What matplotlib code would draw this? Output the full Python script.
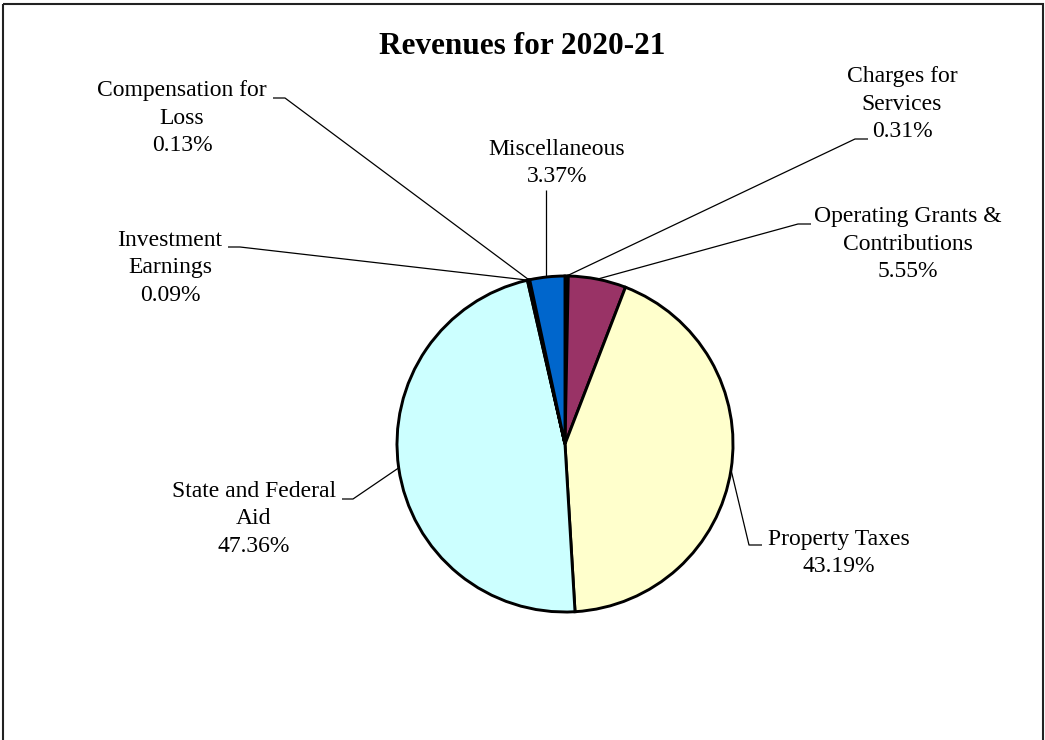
import matplotlib.pyplot as plt
from matplotlib.patches import Rectangle
import numpy as np

plt.rcParams['font.family'] = ['Liberation Serif', 'DejaVu Serif']

# revenue sources, clockwise from 12 o'clock
categories = ['Charges for\nServices', 'Operating Grants &\nContributions', 'Property Taxes',
              'State and Federal\nAid', 'Investment\nEarnings', 'Compensation for\nLoss',
              'Miscellaneous']
shares = [0.31, 5.55, 43.19, 47.36, 0.09, 0.13, 3.37]
colors = ['#000033', '#993366', '#FFFFCC', '#CCFFFF', '#660066', '#FF8080', '#0066CC']

W, H = 1045, 740
CX, CY, R = 565, 444, 168

# label centre, and leader path (from slice edge outwards) in pixel coords
layout = {
    'Charges for\nServices': ((902, 104), [(855, 139), (868, 139)]),
    'Operating Grants &\nContributions': ((908, 244), [(798, 224), (811, 224)]),
    'Property Taxes': ((839, 553), [(749, 545), (762, 545)]),
    'State and Federal\nAid': ((254, 519), [(353, 499), (342, 499)]),
    'Investment\nEarnings': ((170, 268), [(240, 247), (228, 247)]),
    'Compensation for\nLoss': ((182, 118), [(285, 98), (273, 98)]),
    'Miscellaneous': ((557, 163), [(546, 190)]),
}

fig = plt.figure(figsize=(W / 100, H / 100), dpi=100)
ax = fig.add_axes([0, 0, 1, 1])

# y axis points down, so a visual clockwise sweep from the top is
# counterclockwise in data space starting at -90
wedges, _ = ax.pie(shares, colors=colors, startangle=-90, counterclock=True,
                   center=(CX, CY), radius=R,
                   wedgeprops=dict(edgecolor='black', linewidth=2.1))
ax.set_xlim(0, W)
ax.set_ylim(H, 0)
ax.set_aspect('equal')
ax.axis('off')

for w, name, share in zip(wedges, categories, shares):
    mid = np.deg2rad((w.theta1 + w.theta2) / 2)
    anchor = (CX + R * np.cos(mid), CY + R * np.sin(mid))
    (tx, ty), path = layout[name]
    if len(path) == 1:
        # single leader: drop straight down to the rim
        anchor = (path[0][0], CY - np.sqrt(R**2 - (path[0][0] - CX)**2))
    xs, ys = zip(anchor, *path)
    ax.plot(xs, ys, color='black', lw=0.9, solid_capstyle='butt')
    ax.text(tx, ty, f'{name}\n{share:.2f}%', ha='center', va='center',
            fontsize=17, linespacing=1.42)

ax.text(522, 46, 'Revenues for 2020-21', ha='center', va='center',
        fontsize=22.5, fontweight='bold')

# chart frame
ax.add_patch(Rectangle((2.5, 4), W - 4.5, H + 20, fill=False,
                       edgecolor='#222222', lw=1.5, clip_on=False))

fig.savefig('out.png', dpi=100)
